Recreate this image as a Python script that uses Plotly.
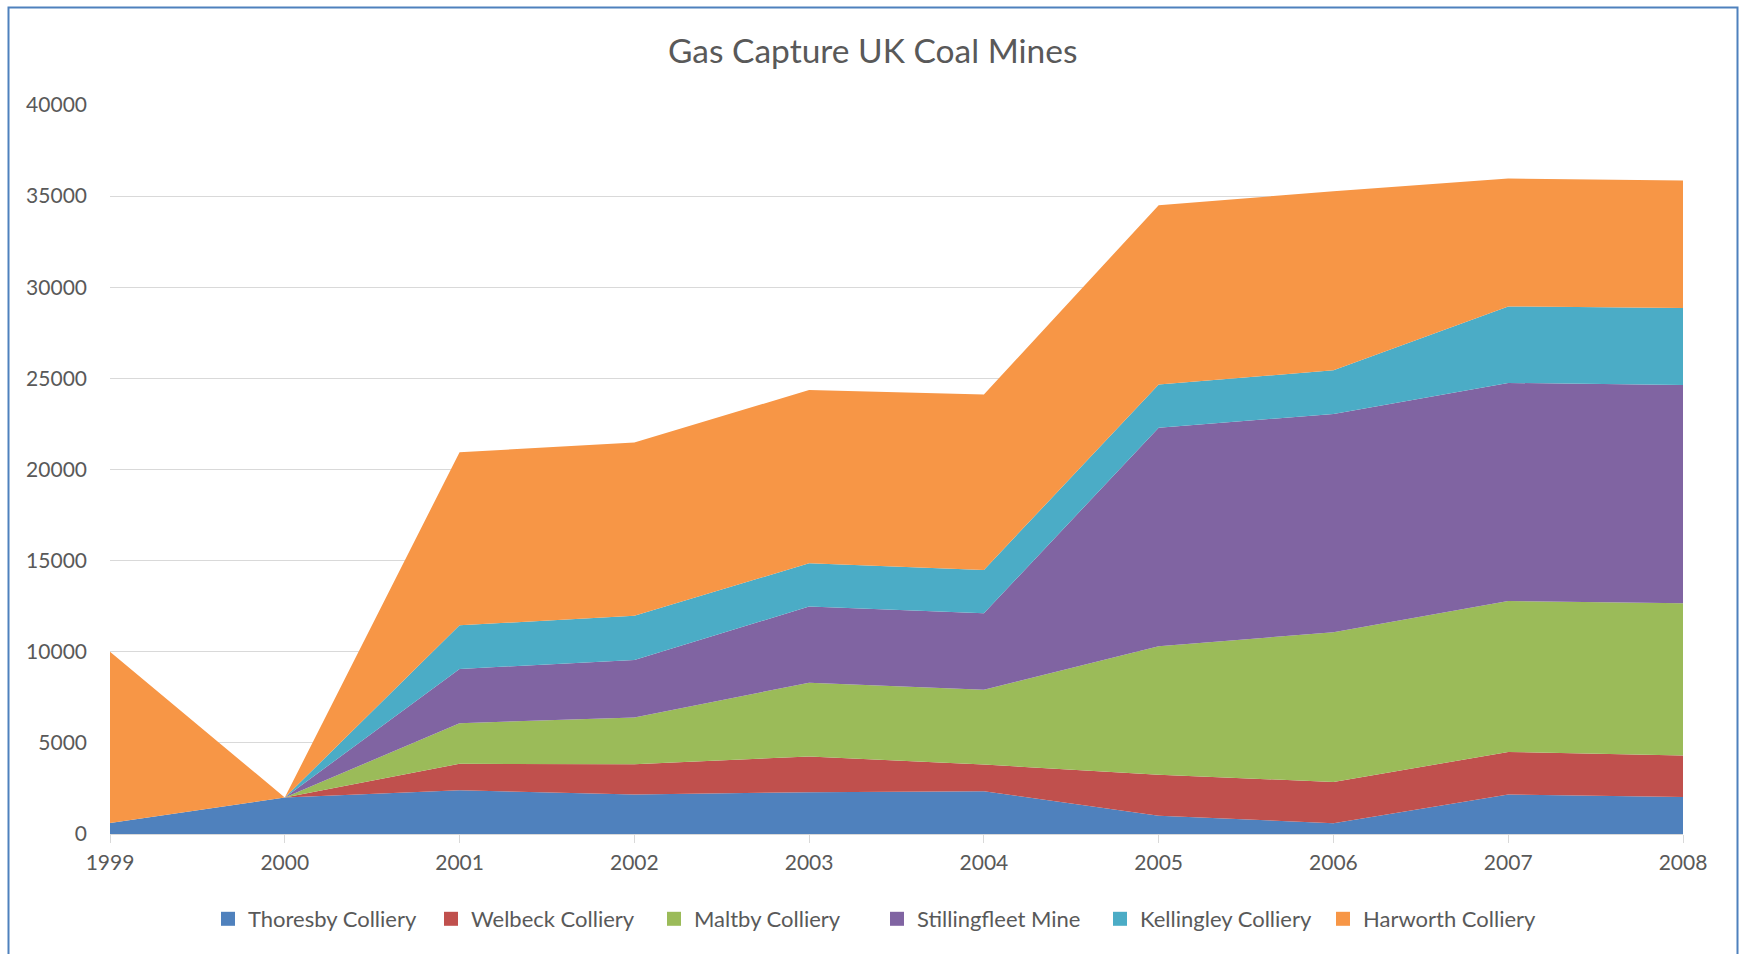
import plotly.graph_objects as go

years = [1999, 2000, 2001, 2002, 2003, 2004, 2005, 2006, 2007, 2008]
series_names = ["Thoresby Colliery", "Welbeck Colliery", "Maltby Colliery",
                "Stillingfleet Mine", "Kellingley Colliery", "Harworth Colliery"]
thoresby = [600, 2000, 2400, 2170, 2290, 2350, 1000, 590, 2170, 2030]
welbeck = [0, 0, 1450, 1660, 1960, 1460, 2250, 2265, 2330, 2280]
maltby = [0, 0, 2230, 2560, 4050, 4100, 7050, 8215, 8280, 8350]
stillingfleet = [0, 0, 2980, 3160, 4180, 4200, 11990, 11980, 11970, 11980]
kellingley = [0, 0, 2390, 2420, 2380, 2380, 2370, 2390, 4200, 4220]
harworth = [9400, 0, 9500, 9510, 9500, 9630, 9840, 9830, 7020, 7000]
colors = ["#4f81bd", "#c0504d", "#9bbb59", "#8064a2", "#4bacc6", "#f79646"]
y_ticks = [0, 5000, 10000, 15000, 20000, 25000, 30000, 35000, 40000]

all_series = [thoresby, welbeck, maltby, stillingfleet, kellingley, harworth]

FONT = "Lato"
GREY = "#595959"

fig = go.Figure()
for name, vals, col in zip(series_names, all_series, colors):
    fig.add_trace(go.Scatter(
        x=years, y=vals, name=name, mode="lines", stackgroup="one",
        line=dict(width=0, color=col), fillcolor=col, showlegend=False,
    ))
for name, col in zip(series_names, colors):
    fig.add_trace(go.Scatter(
        x=[None], y=[None], name=name, mode="markers",
        marker=dict(symbol="square", size=14, color=col), showlegend=True,
    ))

W, H = 1741, 954
L, R, T, B = 110, 58, 105, 120
pw, ph = W - L - R, H - T - B

def px_x(p):
    return (p - L) / pw

def px_y(p):
    return (H - B - p) / ph

fig.add_shape(type="rect", xref="paper", yref="paper",
              x0=px_x(8.5), x1=px_x(1737.5), y0=px_y(970), y1=px_y(7.5),
              line=dict(color="#4f81bd", width=2), fillcolor="rgba(0,0,0,0)",
              layer="above")

fig.update_layout(
    width=W, height=H,
    margin=dict(l=L, r=R, t=T, b=B),
    paper_bgcolor="white", plot_bgcolor="white",
    font=dict(family=FONT, color=GREY, size=21),
    title=dict(text="Gas Capture UK Coal Mines", xref="container", yref="container",
               x=872.7 / W, y=1 - 51.7 / H, xanchor="center", yanchor="middle",
               font=dict(family=FONT, size=33.5, color=GREY)),
    showlegend=True,
    legend=dict(orientation="h", xref="paper", yref="paper",
                x=px_x(877), y=px_y(919), xanchor="center", yanchor="middle",
                font=dict(family=FONT, size=22, color=GREY),
                traceorder="normal", itemwidth=30, bgcolor="rgba(0,0,0,0)",
                entrywidth=178, entrywidthmode="pixels"),
    xaxis=dict(range=[1999, 2008], tickmode="array", tickvals=years,
               ticktext=[str(y) for y in years], showgrid=False, zeroline=False,
               showline=True, linecolor="#d9d9d9", linewidth=1,
               ticks="outside", ticklen=8, tickcolor="#d9d9d9", tickwidth=1,
               ticklabelstandoff=2,
               tickfont=dict(family=FONT, size=21, color=GREY)),
    yaxis=dict(range=[0, 40000], tickmode="array", tickvals=y_ticks,
               ticktext=[str(v) for v in y_ticks], showgrid=True,
               gridcolor="#d9d9d9", gridwidth=1, zeroline=False, showline=False,
               ticks="", ticklabelstandoff=22,
               tickfont=dict(family=FONT, size=21, color=GREY)),
)

fig.write_html("out.html")
